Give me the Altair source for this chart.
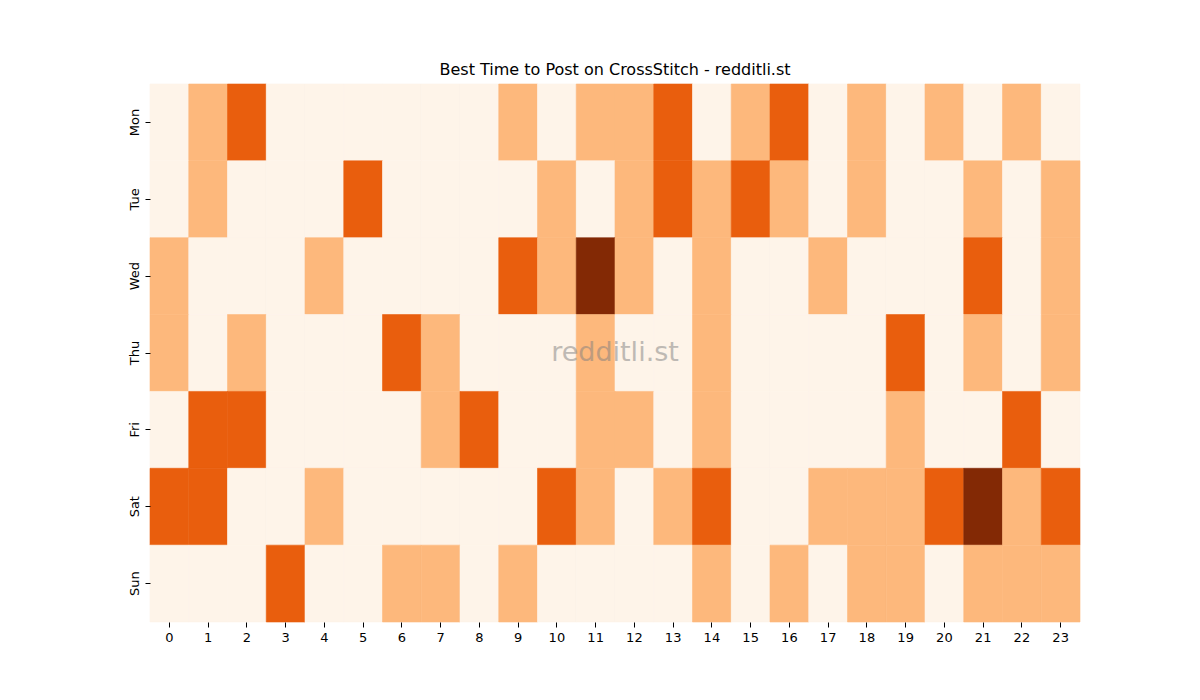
import pandas as pd
import altair as alt

days = ["Mon", "Tue", "Wed", "Thu", "Fri", "Sat", "Sun"]
hours = list(range(24))

# activity level per hour, 0 = low .. 3 = high
mon = [0, 1, 2, 0, 0, 0, 0, 0, 0, 1, 0, 1, 1, 2, 0, 1, 2, 0, 1, 0, 1, 0, 1, 0]
tue = [0, 1, 0, 0, 0, 2, 0, 0, 0, 0, 1, 0, 1, 2, 1, 2, 1, 0, 1, 0, 0, 1, 0, 1]
wed = [1, 0, 0, 0, 1, 0, 0, 0, 0, 2, 1, 3, 1, 0, 1, 0, 0, 1, 0, 0, 0, 2, 0, 1]
thu = [1, 0, 1, 0, 0, 0, 2, 1, 0, 0, 0, 1, 0, 0, 1, 0, 0, 0, 0, 2, 0, 1, 0, 1]
fri = [0, 2, 2, 0, 0, 0, 0, 1, 2, 0, 0, 1, 1, 0, 1, 0, 0, 0, 0, 1, 0, 0, 2, 0]
sat = [2, 2, 0, 0, 1, 0, 0, 0, 0, 0, 2, 1, 0, 1, 2, 0, 0, 1, 1, 1, 2, 3, 1, 2]
sun = [0, 0, 0, 2, 0, 0, 1, 1, 0, 1, 0, 0, 0, 0, 1, 0, 1, 0, 1, 1, 0, 1, 1, 1]

levels = [0, 1, 2, 3]
level_colors = ["#fef4e9", "#fdb87c", "#e95e0d", "#832905"]

rows = []
for day, vals in zip(days, [mon, tue, wed, thu, fri, sat, sun]):
    for h, v in zip(hours, vals):
        rows.append({"day": day, "hour": h, "level": v})
df = pd.DataFrame(rows)

lvl_scale = alt.Scale(domain=levels, range=level_colors, type="linear")

heat = alt.Chart(df).mark_rect(strokeWidth=0.6).encode(
    x=alt.X("hour:O", sort=hours, title=None,
            axis=alt.Axis(labelAngle=0, domain=False, tickColor="black",
                          labelFontSize=13, labelColor="black", tickSize=5, labelPadding=4)),
    y=alt.Y("day:O", sort=days, title=None,
            axis=alt.Axis(labelAngle=270, domain=False, tickColor="black",
                          labelFontSize=13, labelColor="black", tickSize=5,
                          labelAlign="center", labelBaseline="bottom", labelPadding=4)),
    color=alt.Color("level:Q", scale=lvl_scale, legend=None),
    stroke=alt.Stroke("level:Q", scale=lvl_scale, legend=None),
)

mark = alt.Chart(pd.DataFrame({"t": ["redditli.st"]})).mark_text(
    fontSize=27, color="gray", opacity=0.5, font="DejaVu Sans"
).encode(text="t:N", x=alt.value(465), y=alt.value(269))

chart = (heat + mark).properties(
    width=930, height=538,
    title=alt.TitleParams("Best Time to Post on CrossStitch - redditli.st",
                          fontSize=16, fontWeight="normal", font="DejaVu Sans",
                          color="black", offset=6),
    autosize=alt.AutoSizeParams(type="none"),
    padding={"left": 142, "top": 76, "right": 100, "bottom": 70},
).configure_view(stroke=None).configure_axis(
    grid=False, labelFont="DejaVu Sans"
)

chart.save("out.html", embed_options={"renderer": "svg", "actions": False})
